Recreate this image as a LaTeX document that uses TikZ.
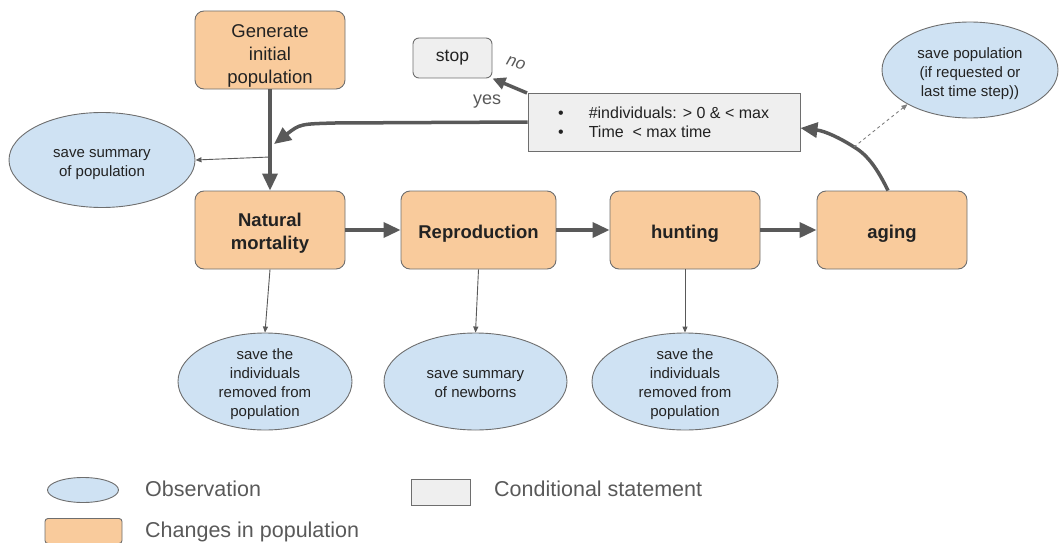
\documentclass[tikz,border=0pt]{standalone}
\usepackage{fontspec}
\setmainfont{Liberation Sans}
\usetikzlibrary{arrows.meta,shapes.geometric}
\definecolor{orfill}{HTML}{F9CB9C}
\definecolor{blfill}{HTML}{CFE2F3}
\definecolor{gyfill}{HTML}{EFEFEF}
\definecolor{edge}{HTML}{6E6E6E}
\definecolor{arr}{HTML}{595959}
\definecolor{txt}{HTML}{222222}
\newcommand\lowerlines[2]{\raisebox{-#1}[\height][\depth]{\begin{tabular}{@{}c@{}}#2\end{tabular}}}
\tikzset{
  change/.style={draw=edge, line width=0.9pt, fill=orfill, rounded corners=9pt, minimum width=150pt, minimum height=78pt, align=center, text=txt, font=\fontsize{18.5}{22.5}\selectfont, inner sep=0pt},
  bchange/.style={change, font=\fontsize{18.5}{23}\selectfont\bfseries},
  oneline/.style={text height=21pt},
  obs/.style={draw=edge, line width=0.9pt, fill=blfill, ellipse, inner sep=-12pt, align=center, text=txt, font=\fontsize{15}{19}\selectfont},
  cond/.style={draw=edge, line width=0.9pt, fill=gyfill, inner sep=0pt},
  bigarrow/.style={draw=arr, line width=3.5pt, -{Triangle[length=17pt,width=15pt]}},
  thinarrow/.style={draw=arr, line width=0.9pt, -{Triangle[length=6pt,width=5pt]}},
  lbl/.style={text=arr, font=\fontsize{18}{20}\selectfont},
  legtxt/.style={text=arr, font=\fontsize{21.5}{24}\selectfont, anchor=west, inner sep=0pt}
}
\begin{document}
\begin{tikzpicture}[x=1pt,y=-1pt]
\useasboundingbox (0,0) rectangle (1060,543);
% main boxes
\node[change] (gen) at (270,50) {\lowerlines{6pt}{Generate\\initial\\population}};
\node[bchange] (nat) at (270,230) {\lowerlines{3.5pt}{Natural\\mortality}};
\node[bchange, oneline, minimum width=155pt] (rep) at (478.5,230) {Reproduction};
\node[bchange, oneline] (hun) at (685,230) {hunting};
\node[bchange, oneline] (agi) at (892,230) {aging};
% stop & condition
\node[cond, rounded corners=6pt, minimum width=79pt, minimum height=40pt, font=\fontsize{17.5}{20}\selectfont, text=txt] (stop) at (452.5,58) {stop};
\node[cond, minimum width=272pt, minimum height=58pt] (cnd) at (664,122) {};
\node[font=\fontsize{16}{18}\selectfont, text=txt, anchor=west, inner sep=0pt] (c1) at (558,112.5) {\textbullet\hspace{25pt}\#individuals: > 0 \& < max};
\node[font=\fontsize{16}{18}\selectfont, text=txt, anchor=west, inner sep=0pt] (c2) at (558,132) {\textbullet\hspace{25pt}Time\ \ < max time};
% observations
\node[obs, minimum width=176pt, minimum height=96pt] (savepop) at (970,70) {\lowerlines{4pt}{save population\\(if requested or\\last time step))}};
\node[obs, minimum width=186pt, minimum height=95pt] (sumpop) at (102,160) {\lowerlines{3pt}{save summary\\of population}};
\node[obs, minimum width=174pt, minimum height=97pt] (rem1) at (265,381.5) {\lowerlines{3pt}{save the\\individuals\\removed from\\population}};
\node[obs, minimum width=183pt, minimum height=97pt] (newb) at (475.5,381.5) {\lowerlines{3pt}{save summary\\of newborns}};
\node[obs, minimum width=186pt, minimum height=97pt] (rem2) at (685,381.5) {\lowerlines{3pt}{save the\\individuals\\removed from\\population}};
% big arrows
\draw[bigarrow] (gen.south) -- (nat.north);
\draw[bigarrow] (nat.east) -- (rep.west);
\draw[bigarrow] (rep.east) -- (hun.west);
\draw[bigarrow] (hun.east) -- (agi.west);
\coordinate (join) at (274,144);
\draw[bigarrow] (cnd.west) -- (335,123) .. controls (300,124) .. (join);
\coordinate (cndcorner) at (527,93);
\draw[bigarrow, -{Triangle[length=13pt,width=12pt]}] (cndcorner) -- (stop.south east);
\coordinate (bend) at (854,147);
\draw[bigarrow] ([xshift=-4pt]agi.north) .. controls (878,170) and (868,155) .. (bend) .. controls (840,138) and (825,131) .. ([yshift=-6pt]cnd.east);
% labels
\node[lbl, font=\fontsize{17}{20}\selectfont\itshape, rotate=-18] (no) at (516,63) {no};
\node[lbl] (yes) at (487,102) {yes};
% thin arrows
\coordinate (tap) at (270,157);
\draw[thinarrow] (tap) -- (sumpop.east);
\draw[thinarrow] (nat.south) -- (rem1.north);
\draw[thinarrow] (rep.south) -- (newb.north);
\draw[thinarrow] (hun.south) -- (rem2.north);
\draw[thinarrow, dashed, draw=gray] (bend) -- (savepop.south west);
% legend
\node[obs, minimum width=71pt, minimum height=25pt] (lobs) at (83,490) {};
\node[legtxt] (tobs) at (145,489) {Observation};
\node[cond, minimum width=59pt, minimum height=26pt] (lcnd) at (440.5,492) {};
\node[legtxt] (tcnd) at (494,489) {Conditional statement};
\node[change, minimum width=77pt, minimum height=25pt, rounded corners=3pt] (lchg) at (83.5,531) {};
\node[legtxt] (tchg) at (145,532) {Changes in population};
\end{tikzpicture}
\end{document}
